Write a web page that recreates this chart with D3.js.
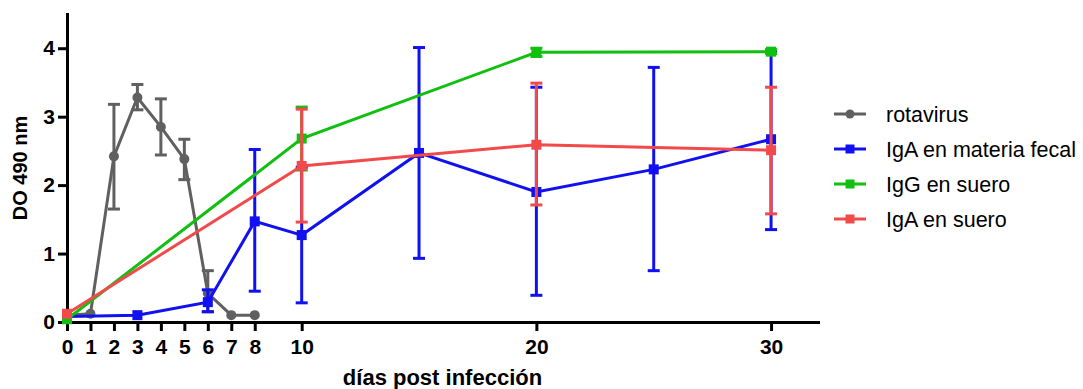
<!DOCTYPE html>
<html>
<head>
<meta charset="utf-8">
<script src="https://cdn.jsdelivr.net/npm/d3@7"></script>
<style>
  body { margin: 0; background: #fff; }
  svg text { font-family: "Liberation Sans", Arial, sans-serif; }
  .axis path, .axis line { stroke: #000; stroke-width: 3px; }
  .axis text { font-size: 21px; font-weight: bold; fill: #000; }
  .axis-label { font-weight: bold; }
  .legend text { font-size: 21.5px; }
</style>
</head>
<body>
<div id="chart"></div>
<script>
// days post infection and values (DO 490 nm) with upper/lower error ends
var rotaDays  = [0, 1, 2, 3, 4, 5, 6, 7, 8];
var rotaMean  = [0.1, 0.12, 2.42, 3.28, 2.85, 2.38, 0.42, 0.1, 0.1];
var rotaUp    = [0.1, 0.12, 3.18, 3.47, 3.26, 2.67, 0.75, 0.1, 0.1];
var rotaLow   = [0.1, 0.12, 1.65, 3.10, 2.44, 2.08, 0.15, 0.1, 0.1];

var fecalDays = [0, 3, 6, 8, 10, 15, 20, 25, 30];
var fecalMean = [0.08, 0.1, 0.29, 1.47, 1.27, 2.47, 1.9, 2.23, 2.67];
var fecalUp   = [0.08, 0.1, 0.47, 2.52, 2.26, 4.01, 3.43, 3.72, 3.96];
var fecalLow  = [0.08, 0.1, 0.15, 0.45, 0.28, 0.93, 0.39, 0.75, 1.35];

var iggDays   = [0, 10, 20, 30];
var iggMean   = [0.04, 2.68, 3.94, 3.95];
var iggUp     = [0.04, 3.14, 4.0, 3.98];
var iggLow    = [0.04, 2.22, 3.88, 3.92];

var igaDays   = [0, 10, 20, 30];
var igaMean   = [0.12, 2.28, 2.59, 2.51];
var igaUp     = [0.12, 3.11, 3.49, 3.43];
var igaLow    = [0.12, 1.46, 1.71, 1.58];

var xTicks = [0, 1, 2, 3, 4, 5, 6, 7, 8, 10, 20, 30];
var yTicks = [0, 1, 2, 3, 4];

var seriesNames = ["rotavirus", "IgA en materia fecal", "IgG en suero", "IgA en suero"];
var seriesColors = ["#606060", "#1010f0", "#10c010", "#f24a4a"];
var seriesShapes = ["circle", "square", "square", "square"];

function build(days, mean, up, low) {
    return days.map(function(d, i) {
        return { day: d, v: mean[i], up: up[i], low: low[i] };
    });
}

var series = [
    build(rotaDays, rotaMean, rotaUp, rotaLow),
    build(fecalDays, fecalMean, fecalUp, fecalLow),
    build(iggDays, iggMean, iggUp, iggLow),
    build(igaDays, igaMean, igaUp, igaLow)
];

var margin = { top: 14, right: 265, bottom: 67, left: 67 };
var width = 1083 - margin.left - margin.right,
    height = 389 - margin.top - margin.bottom;

var svg = d3.select("#chart").append("svg")
    .attr("width", 1083)
    .attr("height", 389)
    .append("g")
    .attr("transform", "translate(" + margin.left + "," + margin.top + ")");

var x = d3.scaleLinear().domain([0, 32]).range([0, width]);
var y = d3.scaleLinear().domain([0, 4.5]).range([height, 0]);

// axes
svg.append("g")
    .attr("class", "x-axis axis")
    .attr("transform", "translate(0," + height + ")")
    .call(d3.axisBottom(x).tickValues(xTicks).tickSize(9).tickSizeOuter(0).tickPadding(8));

svg.append("g")
    .attr("class", "y-axis axis")
    .call(d3.axisLeft(y).tickValues(yTicks).tickFormat(d3.format("d")).tickSize(9).tickSizeOuter(0).tickPadding(3));

svg.selectAll(".axis path").attr("stroke-linecap", "square");

svg.append("text")
    .attr("class", "axis-label")
    .attr("text-anchor", "middle")
    .attr("x", width / 2)
    .attr("y", height + 63)
    .style("font-size", "22px")
    .text("días post infección");

svg.append("text")
    .attr("class", "axis-label")
    .attr("text-anchor", "middle")
    .attr("transform", "rotate(-90)")
    .attr("x", -height / 2)
    .attr("y", -40)
    .style("font-size", "20px")
    .text("DO 490 nm");

var line = d3.line()
    .x(function(d) { return x(d.day); })
    .y(function(d) { return y(d.v); });

var cap = 6;

series.forEach(function(data, s) {
    var col = seriesColors[s];
    var g = svg.append("g").attr("class", "series-" + s);

    // error bars
    var eb = g.selectAll(".err")
        .data(data.filter(function(d) { return d.up - d.low > 0.001; }))
        .enter().append("g")
        .attr("class", "err");
    eb.append("line")
        .attr("x1", function(d) { return x(d.day); })
        .attr("x2", function(d) { return x(d.day); })
        .attr("y1", function(d) { return y(d.up); })
        .attr("y2", function(d) { return y(d.low); })
        .attr("stroke", col).attr("stroke-width", 3);
    eb.append("line")
        .attr("x1", function(d) { return x(d.day) - cap; })
        .attr("x2", function(d) { return x(d.day) + cap; })
        .attr("y1", function(d) { return y(d.up); })
        .attr("y2", function(d) { return y(d.up); })
        .attr("stroke", col).attr("stroke-width", 3);
    eb.append("line")
        .attr("x1", function(d) { return x(d.day) - cap; })
        .attr("x2", function(d) { return x(d.day) + cap; })
        .attr("y1", function(d) { return y(d.low); })
        .attr("y2", function(d) { return y(d.low); })
        .attr("stroke", col).attr("stroke-width", 3);

    g.append("path")
        .datum(data)
        .attr("fill", "none")
        .attr("stroke", col)
        .attr("stroke-width", 3)
        .attr("d", line);

    if (seriesShapes[s] === "circle") {
        g.selectAll(".pt").data(data).enter().append("circle")
            .attr("class", "pt")
            .attr("cx", function(d) { return x(d.day); })
            .attr("cy", function(d) { return y(d.v); })
            .attr("r", 5)
            .attr("fill", col);
    } else {
        g.selectAll(".pt").data(data).enter().append("rect")
            .attr("class", "pt")
            .attr("x", function(d) { return x(d.day) - 5; })
            .attr("y", function(d) { return y(d.v) - 5; })
            .attr("width", 10)
            .attr("height", 10)
            .attr("fill", col);
    }
});

// legend
var legend = svg.append("g")
    .attr("class", "legend")
    .attr("transform", "translate(" + (width + 16) + ",100)");

seriesNames.forEach(function(name, i) {
    var row = legend.append("g").attr("transform", "translate(0," + (i * 35) + ")");
    row.append("line")
        .attr("x1", 0).attr("x2", 32)
        .attr("stroke", seriesColors[i]).attr("stroke-width", 3);
    if (seriesShapes[i] === "circle") {
        row.append("circle").attr("cx", 16).attr("r", 4.5).attr("fill", seriesColors[i]);
    } else {
        row.append("rect").attr("x", 11.5).attr("y", -4.5).attr("width", 9).attr("height", 9)
            .attr("fill", seriesColors[i]);
    }
    row.append("text")
        .attr("x", 52)
        .attr("dy", "0.35em")
        .text(name);
});
</script>
</body>
</html>
